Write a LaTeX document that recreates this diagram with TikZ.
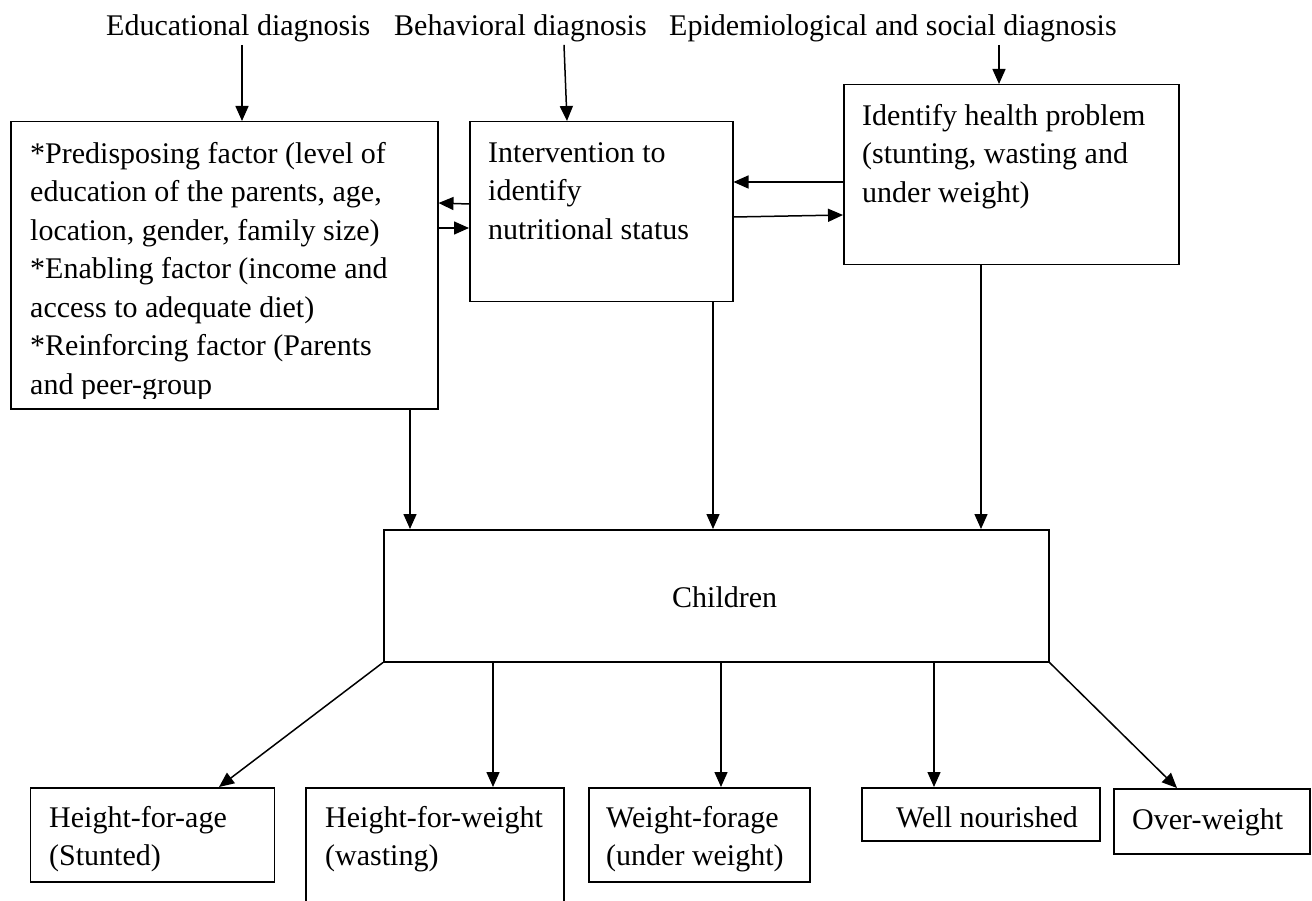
\documentclass[tikz,border=0pt]{standalone}
\usepackage{fontspec}
\setmainfont{Liberation Serif}
\usetikzlibrary{arrows.meta,positioning,calc}
\tikzset{
  >={Triangle[length=15pt,width=13pt]},
  arr/.style={->,line width=1.5pt},
}

\begin{document}
\begin{tikzpicture}[x=1pt,y=-1pt,
  box/.style={draw,line width=1.5pt,anchor=north west,inner sep=0pt},
  txt/.style={anchor=north west,align=left,inner sep=0pt,
    font=\fontsize{30}{38.5}\selectfont,execute at begin node=\strut},
]
  \clip (0,0) rectangle (1312,901);

  % diagnosis labels
  \node[txt] (edu) at (106,8) {Educational diagnosis};
  \node[txt] (beh) at (394,8) {Behavioral diagnosis};
  \node[txt] (epi) at (669,8) {Epidemiological and social diagnosis};

  % factors
  \node[box,minimum width=427pt,minimum height=287pt] (P) at (10,121) {};
  \begin{scope}
    \clip (P.north west) rectangle ([yshift=11pt]P.south east);
    \node[txt] (Pt) at ($(P.north west)+(20,21)$) {%
      *Predisposing factor (level of\\
      education of the parents, age,\\
      location, gender, family size)\\
      *Enabling factor (income and\\
      access to adequate diet)\\
      *Reinforcing factor (Parents\\
      and peer-group};
  \end{scope}

  % intervention
  \node[box,minimum width=263pt,minimum height=180pt] (I) at (469,121) {};
  \node[txt] (It) at ($(I.north west)+(19,21)$) {%
    Intervention to\\ identify\\ nutritional status};

  % health problem
  \node[box,minimum width=335pt,minimum height=180pt] (H) at (843,84) {};
  \node[txt] (Ht) at ($(H.north west)+(19,20)$) {%
    Identify health problem\\ (stunting, wasting and\\ under weight)};

  % children
  \node[box,minimum width=665pt,minimum height=132pt] (C) at (383,529) {};
  \node[txt] (Ct) at ($(C.north west)+(289,51)$) {Children};

  % outcomes
  \node[box,minimum width=244pt,minimum height=94pt] (HA) at (29.5,787) {};
  \node[txt] (HAt) at ($(HA.north west)+(19.5,19)$) {Height-for-age\\ (Stunted)};
  \node[box,minimum width=258pt,minimum height=150pt] (HW) at (305,787) {};
  \node[txt] (HWt) at ($(HW.north west)+(20,19)$) {Height-for-weight\\ (wasting)};
  \node[box,minimum width=221pt,minimum height=94pt] (WF) at (588,787) {};
  \node[txt] (WFt) at ($(WF.north west)+(18,19)$) {Weight-forage\\ (under weight)};
  \node[box,minimum width=238pt,minimum height=53pt] (WN) at (861,787) {};
  \node[txt] (WNt) at ($(WN.north west)+(35,13)$) {Well nourished};
  \node[box,minimum width=196pt,minimum height=65pt] (OW) at (1113,788) {};
  \node[txt] (OWt) at ($(OW.north west)+(19,14)$) {Over-weight};

  % inputs
  \coordinate (eduin) at ($(P.north west)+(232,0)$);
  \coordinate (behin) at ($(I.north west)+(98,0)$);
  \coordinate (epiin) at ($(H.north west)+(156,0)$);
  \draw[arr] ([yshift=2pt]eduin |- edu.south) -- (eduin);
  \draw[arr] ([xshift=-3pt,yshift=2pt]behin |- beh.south) -- (behin);
  \draw[arr] ([yshift=2pt]epiin |- epi.south) -- (epiin);

  % links between the top boxes
  \draw[arr] ($(I.north west)+(0,83)$) -- ($(P.north east)+(0,82)$);
  \draw[arr] ($(P.north east)+(0,107)$) -- ($(I.north west)+(0,107)$);
  \draw[arr] ($(H.north west)+(0,98)$) -- ($(I.north east)+(0,61)$);
  \draw[arr] ($(I.north east)+(0,96)$) -- ($(H.north west)+(0,131)$);

  % down to children
  \foreach \u/\dx in {P/400,I/244,H/138}
    \draw[arr] ($(\u.south west)+(\dx,0)$) coordinate (d) -- (d |- C.north);

  % children to outcomes
  \draw[arr] (C.south west) -- ($(HA.north west)+(189.5,0)$);
  \foreach \dx/\v in {110/HW,338/WF,551/WN}
    \draw[arr] ($(C.south west)+(\dx,0)$) coordinate (d) -- (d |- \v.north);
  \draw[arr] (C.south east) -- ($(OW.north west)+(64,0)$);
\end{tikzpicture}
\end{document}
